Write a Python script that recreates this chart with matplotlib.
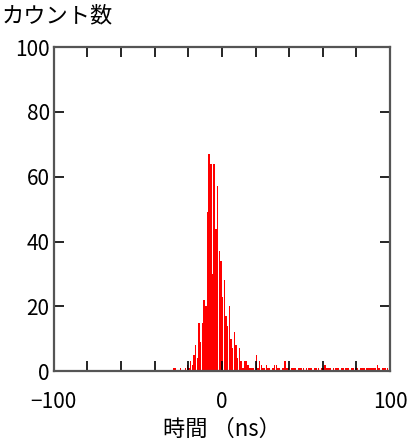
import matplotlib.pyplot as plt
import numpy as np

plt.rcParams['font.family'] = ['Noto Sans CJK JP', 'DejaVu Sans']

# histogram: 1 ns bins starting at -30 ns
first_bin = -30
counts = [
    0, 1, 1, 0, 0, 1, 0, 0, 1, 2,          # -30 .. -21
    1, 3, 2, 5, 8, 4, 15, 9, 15, 22,       # -20 .. -11
    20, 49, 67, 64, 30, 64, 44, 57, 37, 34,  # -10 .. -1
    23, 28, 17, 14, 20, 10, 7, 12, 8, 4,   # 0 .. 9
    7, 3, 1, 3, 3, 2, 1, 1, 1, 0,          # 10 .. 19
    5, 1, 3, 2, 1, 1, 2, 1, 1, 0,          # 20 .. 29
    1, 2, 2, 1, 1, 0, 1, 3, 1, 1,          # 30 .. 39
    0, 1, 1, 1, 0, 1, 1, 1, 1, 0,          # 40 .. 49
    1, 1, 1, 1, 0, 1, 1, 1, 0, 1,          # 50 .. 59
    1, 2, 1, 1, 1, 0, 1, 1, 1, 1,          # 60 .. 69
    0, 1, 1, 1, 1, 1, 0, 1, 1, 1,          # 70 .. 79
    1, 0, 1, 1, 1, 0, 1, 1, 1, 1,          # 80 .. 89
    1, 1, 2, 1, 0, 1, 1, 1, 1, 0,          # 90 .. 99
]
time_ns = np.arange(first_bin, first_bin + len(counts))

x_labels = ['\u2212100', '0', '100']
x_label_pos = [-100, 0, 100]
y_ticks = [0, 20, 40, 60, 80, 100]

fig = plt.figure(figsize=(4.14, 4.45), dpi=100)
ax = fig.add_axes([0.130, 0.166, 0.812, 0.728])

ax.bar(time_ns, counts, width=0.85, color='red', linewidth=0, align='edge')

ax.set_xlim(-100, 100)
ax.set_ylim(0, 100)
ax.set_xticks(np.arange(-100, 101, 20))
ax.set_xticklabels([x_labels[x_label_pos.index(t)] if t in x_label_pos else ''
                    for t in range(-100, 101, 20)])
ax.set_yticks(y_ticks)
ax.set_yticklabels([str(v) for v in y_ticks])
ax.tick_params(direction='in', length=7, width=1.2, color='black',
               top=True, right=True, labelsize=15, pad=3)
ax.tick_params(axis='x', pad=14)
for s in ax.spines.values():
    s.set_color('#555555')
    s.set_linewidth(1.6)

fig.text(0.005, 0.99, 'カウント数', fontsize=16, ha='left', va='top')
ax.set_xlabel('時間 （ns）', fontsize=16, labelpad=4)

fig.savefig('out.png', dpi=100)
